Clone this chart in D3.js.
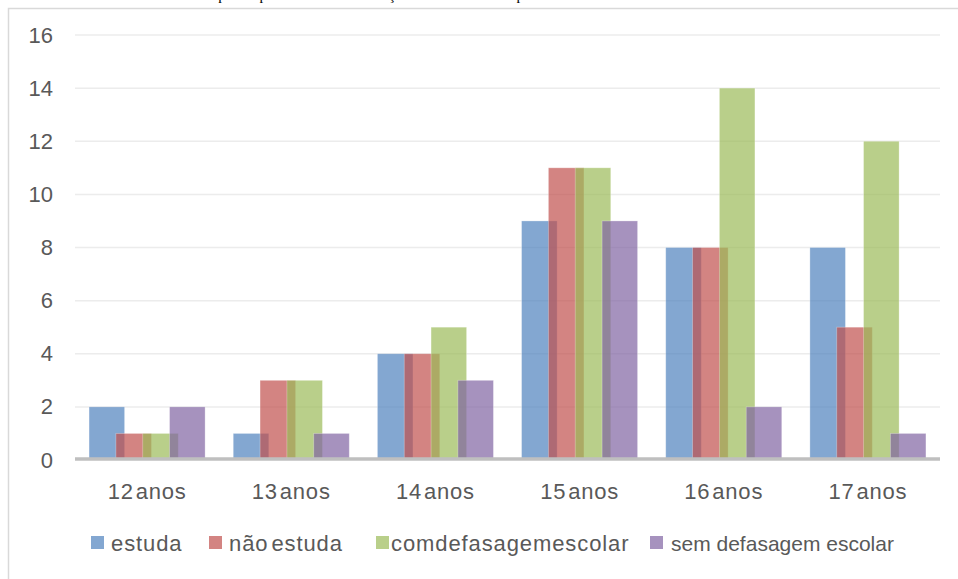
<!DOCTYPE html>
<html>
<head>
<meta charset="utf-8">
<script src="https://cdn.jsdelivr.net/npm/d3@7"></script>
<style>
  body { margin: 0; background: #fff; }
  svg { display: block; }
  text { font-family: "Liberation Sans", Arial, sans-serif; fill: #595959; }
</style>
</head>
<body>
<div id="chart"></div>
<script>
// Data
const categories = ['12 anos', '13 anos', '14 anos', '15 anos', '16 anos', '17 anos'];
const seriesNames = ['estuda', 'não estuda', 'com defasagem escolar', 'sem defasagem escolar'];
const estuda = [2, 1, 4, 9, 8, 8];
const naoEstuda = [1, 3, 4, 11, 8, 5];
const comDefasagem = [1, 3, 5, 11, 14, 12];
const semDefasagem = [2, 1, 3, 9, 2, 1];
const yTicks = [0, 2, 4, 6, 8, 10, 12, 14, 16];

const seriesValues = [estuda, naoEstuda, comDefasagem, semDefasagem];
const colors = ['#4f81bd', '#c0504d', '#9bbb59', '#8064a2'];

const W = 958, H = 579;
const svg = d3.select('#chart').append('svg')
    .attr('width', W)
    .attr('height', H);

// cut-off caption line at the very top (only its descenders show)
svg.append('text')
    .attr('x', 2)
    .attr('y', -0.5)
    .style('font-family', '"Liberation Serif", "Times New Roman", serif')
    .style('font-size', '15px')
    .style('fill', '#000')
    .text('Gráfico 1 – Adolescentes atendidos por Departamento da Promoção Social do Município em 2014');

// chart frame
svg.append('rect')
    .attr('x', 8.5).attr('y', 8.5)
    .attr('width', 980).attr('height', 600)
    .attr('fill', '#fff')
    .attr('stroke', '#d9d9d9')
    .attr('stroke-width', 1.5);

// Scales
const x = d3.scaleBand()
    .domain(categories)
    .range([75, 940]);

const y = d3.scaleLinear()
    .domain([0, 16])
    .range([460, 35]);

// Gridlines
svg.append('g')
    .selectAll('line')
    .data(yTicks.filter(d => d > 0))
    .enter()
    .append('line')
    .attr('x1', 75).attr('x2', 940)
    .attr('y1', d => y(d)).attr('y2', d => y(d))
    .attr('stroke', '#ececec')
    .attr('stroke-width', 1.5);

// Y axis labels
const yAxis = d3.axisLeft(y).tickValues(yTicks).tickSize(0).tickPadding(0);
const yg = svg.append('g')
    .attr('transform', 'translate(53,0)')
    .call(yAxis);
yg.select('.domain').remove();
yg.selectAll('text')
    .style('font-size', '22px')
    .style('fill', '#595959')
    .style('font-family', '"Liberation Sans", Arial, sans-serif');

// Bars (overlapping, Excel style)
const barW = x.bandwidth() * 0.2465;
const step = barW * 0.755;
const span = step * 3 + barW;

seriesValues.forEach((vals, si) => {
    svg.append('g')
        .selectAll('rect')
        .data(vals)
        .enter()
        .append('rect')
        .attr('x', (d, i) => x(categories[i]) + x.bandwidth() / 2 - span / 2 + si * step)
        .attr('y', d => y(d))
        .attr('width', barW)
        .attr('height', d => y(0) - y(d))
        .attr('fill', colors[si])
        .attr('fill-opacity', 0.7)
        .attr('stroke', '#fff')
        .attr('stroke-opacity', 0.35)
        .attr('stroke-width', 0.8);
});

// baseline
svg.append('line')
    .attr('x1', 75).attr('x2', 940)
    .attr('y1', 459).attr('y2', 459)
    .attr('stroke', '#bfbfbf')
    .attr('stroke-width', 3.5);

// X axis labels
const xAxis = d3.axisBottom(x).tickSize(0).tickPadding(0);
const xg = svg.append('g')
    .attr('transform', 'translate(0,483)')
    .call(xAxis);
xg.select('.domain').remove();
xg.selectAll('text')
    .attr('dy', '0.72em')
    .style('font-size', '22px')
    .style('letter-spacing', '0.8px')
    .style('word-spacing', '-5px')
    .style('fill', '#595959')
    .style('font-family', '"Liberation Sans", Arial, sans-serif');

// Legend
const legendX = [91, 209, 376, 650];
const textGap = [20, 20, 15, 21];
const fontSz = ['22px', '22px', '22px', '21px'];
const letterSp = ['0.9px', '0.9px', '0.9px', '0px'];
const wordSp = ['0px', '-4px', '-7px', '0px'];
const legend = svg.append('g');
seriesNames.forEach((name, i) => {
    legend.append('rect')
        .attr('x', legendX[i]).attr('y', 536)
        .attr('width', 13).attr('height', 13)
        .attr('fill', colors[i])
        .attr('fill-opacity', 0.7);
    legend.append('text')
        .attr('x', legendX[i] + textGap[i])
        .attr('y', 551)
        .style('font-size', fontSz[i])
        .style('letter-spacing', letterSp[i])
        .style('word-spacing', wordSp[i])
        .text(name);
});
</script>
</body>
</html>
